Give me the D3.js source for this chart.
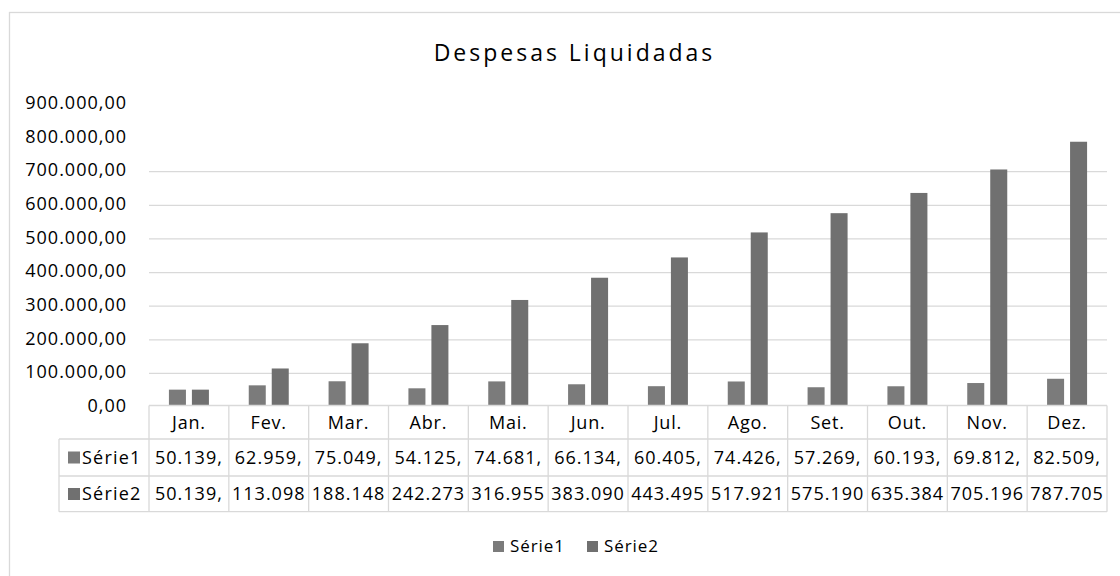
<!DOCTYPE html>
<html>
<head>
<meta charset="utf-8">
<script src="https://cdn.jsdelivr.net/npm/d3@7"></script>
<style>
  body { margin: 0; background: #fff; }
  text { font-family: "Open Sans", "Liberation Sans", sans-serif; fill: #000; }
</style>
</head>
<body>
<script>
// Data
const months = ["Jan.", "Fev.", "Mar.", "Abr.", "Mai.", "Jun.", "Jul.", "Ago.", "Set.", "Out.", "Nov.", "Dez."];
const seriesNames = ["Série1", "Série2"];
const serie1 = [50139, 62959, 75049, 54125, 74681, 66134, 60405, 74426, 57269, 60193, 69812, 82509];
const serie2 = [50139, 113098, 188148, 242273, 316955, 383090, 443495, 517921, 575190, 635384, 705196, 787705];
// texts as shown (truncated) in the data table cells
const serie1Labels = ["50.139,", "62.959,", "75.049,", "54.125,", "74.681,", "66.134,", "60.405,", "74.426,", "57.269,", "60.193,", "69.812,", "82.509,"];
const serie2Labels = ["50.139,", "113.098", "188.148", "242.273", "316.955", "383.090", "443.495", "517.921", "575.190", "635.384", "705.196", "787.705"];
const yTicks = [0, 100000, 200000, 300000, 400000, 500000, 600000, 700000, 800000, 900000];

const W = 1120, H = 576;
const colors = ["#7b7b7b", "#707070"];
const lineColor = "#d9d9d9";

// plot area
const plotLeft = 149, plotRight = 1107;
const zeroY = 406.5, topY = 104;

const svg = d3.select("body").append("svg")
    .attr("width", W)
    .attr("height", H);

// chart frame (runs off the right/bottom edge like the original)
svg.append("rect")
    .attr("x", 9.5).attr("y", 12.5)
    .attr("width", 1140).attr("height", 600)
    .attr("fill", "#fff")
    .attr("stroke", lineColor)
    .attr("stroke-width", 1.3);

// Title
svg.append("text")
    .attr("x", 574.5)
    .attr("y", 61)
    .attr("text-anchor", "middle")
    .attr("font-size", 23)
    .attr("letter-spacing", 3)
    .text("Despesas Liquidadas");

// Scales
const x0 = d3.scaleBand().domain(months).range([plotLeft, plotRight]);
const groupW = 40;
const x1 = d3.scaleBand().domain(seriesNames)
    .range([(x0.bandwidth() - groupW) / 2, (x0.bandwidth() + groupW) / 2])
    .paddingInner(0.26);
const y = d3.scaleLinear().domain([0, 900000]).range([zeroY, topY]);

const locale = d3.formatLocale({ decimal: ",", thousands: ".", grouping: [3], currency: ["", ""] });
const fmt = locale.format(",.2f");

// Gridlines (only 100k..700k are visible in the original)
svg.append("g")
    .attr("transform", `translate(${plotLeft},0)`)
    .call(d3.axisLeft(y)
        .tickValues(yTicks.filter(v => v > 0 && v <= 700000))
        .tickSize(-(plotRight - plotLeft))
        .tickFormat(""))
    .call(g => g.select(".domain").remove())
    .call(g => g.selectAll(".tick line").attr("stroke", lineColor).attr("stroke-width", 1.3));

// Y axis labels
svg.append("g")
    .attr("transform", `translate(127,-1)`)
    .call(d3.axisLeft(y).tickValues(yTicks).tickSize(0).tickPadding(0).tickFormat(fmt))
    .call(g => g.select(".domain").remove())
    .call(g => g.selectAll("text")
        .attr("font-family", null)
        .attr("font-size", 18)
        .attr("letter-spacing", 1)
        .attr("fill", "#000"));

// Bars
const seriesData = [serie1, serie2];
const barG = svg.append("g");
seriesData.forEach((vals, si) => {
    barG.selectAll(".bar" + si)
        .data(vals)
        .join("rect")
        .attr("x", (d, i) => x0(months[i]) + x1(seriesNames[si]))
        .attr("width", x1.bandwidth())
        .attr("y", d => y(d))
        .attr("height", d => zeroY - y(d))
        .attr("fill", colors[si]);
});

// Data table
const rowTop = [405.5, 439, 476];
const rowBottom = 511.7;
const tableLeft = 59;
const table = svg.append("g");

table.append("rect")
    .attr("x", plotLeft).attr("y", rowTop[0])
    .attr("width", plotRight - plotLeft).attr("height", rowTop[1] - rowTop[0])
    .attr("fill", "#fff");

const hline = (x1_, x2_, yy) => table.append("line")
    .attr("x1", x1_).attr("x2", x2_).attr("y1", yy).attr("y2", yy)
    .attr("stroke", lineColor).attr("stroke-width", 1.3);
const vline = (xx, y1_, y2_) => table.append("line")
    .attr("x1", xx).attr("x2", xx).attr("y1", y1_).attr("y2", y2_)
    .attr("stroke", lineColor).attr("stroke-width", 1.3);

hline(plotLeft, plotRight, rowTop[0]);
hline(tableLeft, plotRight, rowTop[1]);
hline(tableLeft, plotRight, rowTop[2]);
hline(tableLeft, plotRight, rowBottom);
vline(tableLeft, rowTop[1], rowBottom);
months.forEach(m => vline(x0(m), rowTop[0], rowBottom));
vline(plotRight, rowTop[0], rowBottom);

const rowCenter = [422.5, 457.5, 494];

// month header
table.selectAll(".mlab")
    .data(months)
    .join("text")
    .attr("x", d => x0(d) + x0.bandwidth() / 2)
    .attr("y", rowCenter[0])
    .attr("dy", "0.35em")
    .attr("text-anchor", "middle")
    .attr("font-size", 18)
    .attr("letter-spacing", 0.8)
    .text(d => d);

// value rows
[serie1Labels, serie2Labels].forEach((labels, si) => {
    table.selectAll(".val" + si)
        .data(labels)
        .join("text")
        .attr("x", (d, i) => x0(months[i]) + x0.bandwidth() / 2)
        .attr("y", rowCenter[si + 1])
        .attr("dy", "0.35em")
        .attr("text-anchor", "middle")
        .attr("font-size", 18)
        .attr("letter-spacing", 1)
        .text(d => d);

    table.append("rect")
        .attr("x", 68).attr("y", rowCenter[si + 1] - 6)
        .attr("width", 12).attr("height", 12)
        .attr("fill", colors[si]);
    table.append("text")
        .attr("x", 82)
        .attr("y", rowCenter[si + 1])
        .attr("dy", "0.35em")
        .attr("font-size", 18)
        .attr("letter-spacing", 1.2)
        .text(seriesNames[si]);
});

// Legend
const legendX = [493, 587];
seriesNames.forEach((name, si) => {
    svg.append("rect")
        .attr("x", legendX[si]).attr("y", 541)
        .attr("width", 11).attr("height", 11)
        .attr("fill", colors[si]);
    svg.append("text")
        .attr("x", legendX[si] + 17)
        .attr("y", 546.5)
        .attr("dy", "0.35em")
        .attr("font-size", 17)
        .attr("letter-spacing", 0.9)
        .text(name);
});
</script>
</body>
</html>
